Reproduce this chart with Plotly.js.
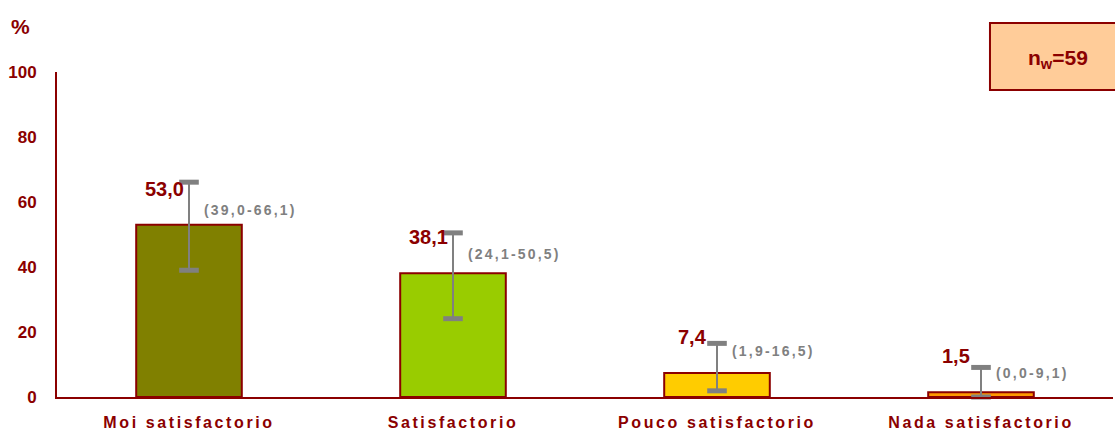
<!DOCTYPE html>
<html>
<head>
<meta charset="utf-8">
<script src="https://cdn.plot.ly/plotly-3.0.1.min.js"></script>
<style>
html,body{margin:0;padding:0;background:#fff;}
#chart{width:1115px;height:430px;}
.xtick text{letter-spacing:2.6px;}
text.annotation-text[style*="rgb(128, 128, 128)"]{letter-spacing:2.2px;}
</style>
</head>
<body>
<div id="chart"></div>
<script>
const categories = ["Moi satisfactorio", "Satisfactorio", "Pouco satisfactorio", "Nada satisfactorio"];
const values = [53.0, 38.1, 7.4, 1.5];
const ciLow = [39.0, 24.1, 1.9, 0.0];
const ciHigh = [66.1, 50.5, 16.5, 9.1];
const barColors = ["#808000", "#99CC00", "#FFCC00", "#FF9900"];
const sampleLabel = "<b>n<sub>w</sub>=59</b>";
const yTicks = [0, 20, 40, 60, 80, 100];

const DARK = "#8B0000";
const GREY = "#808080";
const FONT = "Liberation Sans, Arial, sans-serif";
const fmt = v => v.toFixed(1).replace(".", ",");

const idx = categories.map((c, i) => i);

const barTrace = {
  type: "bar",
  x: idx,
  y: values,
  marker: {color: barColors, line: {color: DARK, width: 2}},
  width: 0.4,
  error_y: {
    type: "data", symmetric: false,
    array: values.map((v, i) => ciHigh[i] - v),
    arrayminus: values.map((v, i) => v - ciLow[i]),
    color: GREY, thickness: 2, width: 0
  },
  hoverinfo: "none"
};

const capTrace = {
  type: "scatter", mode: "markers",
  x: idx.concat(idx),
  y: ciHigh.concat(ciLow),
  marker: {symbol: "line-ew", size: 14, line: {color: GREY, width: 5}},
  cliponaxis: false,
  hoverinfo: "none"
};

const annotations = [];
idx.forEach(i => {
  annotations.push({
    x: i, y: Math.max(ciHigh[i] - 2, values[i] + 11), xref: "x", yref: "y",
    text: "<b>" + fmt(values[i]) + "</b>", showarrow: false,
    xanchor: "center", yanchor: "middle", xshift: -25,
    font: {family: FONT, size: 20, color: DARK}
  });
  annotations.push({
    x: i, y: 0.88 * ciHigh[i] - 0.5, xref: "x", yref: "y",
    text: "<b>(" + fmt(ciLow[i]) + "-" + fmt(ciHigh[i]) + ")</b>", showarrow: false,
    xanchor: "left", yanchor: "middle", xshift: 13,
    font: {family: FONT, size: 14, color: GREY}
  });
});
annotations.push({
  x: -0.035, y: 1.14, xref: "paper", yref: "paper",
  text: "<b>%</b>", showarrow: false, xanchor: "center", yanchor: "middle",
  font: {family: FONT, size: 21, color: DARK}
});
annotations.push({
  x: 0.948, y: 1.04, xref: "paper", yref: "paper",
  text: sampleLabel, showarrow: false, xanchor: "center", yanchor: "middle",
  font: {family: FONT, size: 21, color: DARK}
});

const layout = {
  width: 1115, height: 430,
  margin: {l: 57, r: 2, t: 72, b: 33},
  paper_bgcolor: "#fff", plot_bgcolor: "#fff",
  showlegend: false,
  xaxis: {
    range: [-0.5, 3.5], tickmode: "array", tickvals: idx, ticktext: categories.map(c => "<b>" + c + "</b>"),
    showgrid: false, zeroline: false, showline: true, linecolor: DARK, linewidth: 2,
    ticks: "", ticklabelstandoff: 10,
    tickfont: {family: FONT, size: 16, color: DARK}
  },
  yaxis: {
    range: [0, 100], tickmode: "array", tickvals: yTicks, ticktext: yTicks.map(t => "<b>" + t + "</b>"),
    showgrid: false, zeroline: false, showline: true, linecolor: DARK, linewidth: 2,
    ticks: "", ticklabelstandoff: 15,
    tickfont: {family: FONT, size: 17, color: DARK}
  },
  shapes: [{
    type: "rect", xref: "paper", yref: "paper",
    x0: 0.8835, x1: 1.01, y0: 0.9446, y1: 1.1508,
    fillcolor: "#FFCC99", line: {color: DARK, width: 2}, layer: "above"
  }],
  annotations: annotations
};

Plotly.newPlot("chart", [barTrace, capTrace], layout, {displayModeBar: false, staticPlot: true});
</script>
</body>
</html>
